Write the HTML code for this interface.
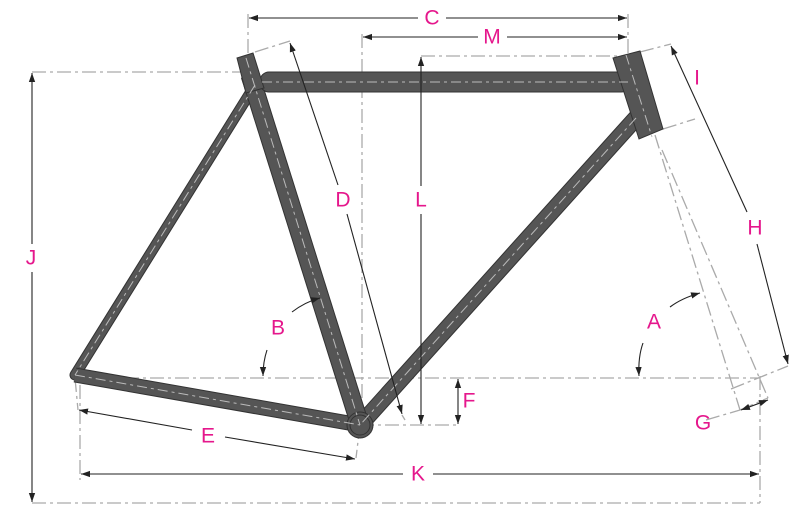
<!DOCTYPE html>
<html><head><meta charset="utf-8"><style>
html,body{margin:0;padding:0;background:#fff;}
svg{display:block;}
text{font-family:"Liberation Sans",sans-serif;font-size:21px;fill:#e5178c;text-anchor:middle;dominant-baseline:central;}
</style></head><body>
<svg width="800" height="513" viewBox="0 0 800 513" xmlns="http://www.w3.org/2000/svg">
<defs>
<marker id="ar" viewBox="0 0 10 10" refX="10" refY="5" markerWidth="9" markerHeight="9" orient="auto-start-reverse" markerUnits="userSpaceOnUse"><path d="M0,1.5 L10,5 L0,8.5 z" fill="#222"/></marker>
</defs>
<g fill="none" stroke="#aaa" stroke-width="1.3" stroke-dasharray="14,4,3,4">
<!-- J ext -->
<line x1="32" y1="72" x2="248" y2="72"/>
<line x1="32" y1="503" x2="760" y2="503"/>
<line x1="248" y1="14" x2="248" y2="58"/>
<line x1="628" y1="14" x2="628" y2="55"/>
<line x1="362" y1="34" x2="362" y2="425"/>
<line x1="421" y1="56" x2="628" y2="56"/>
<line x1="75" y1="378" x2="760" y2="378"/>
<line x1="360" y1="425" x2="458" y2="425"/>
<line x1="80" y1="385" x2="80" y2="480"/>
<line x1="760" y1="376" x2="760" y2="503"/>
<line x1="655" y1="135" x2="740" y2="410"/>
<line x1="662" y1="150" x2="768" y2="398"/>
<line x1="731" y1="389" x2="788" y2="366"/>
<line x1="740" y1="410" x2="768" y2="398"/>
<line x1="706" y1="420" x2="740" y2="410"/>
<line x1="360" y1="425" x2="356" y2="458"/>
<line x1="75" y1="378" x2="78" y2="410"/>
<line x1="255" y1="52" x2="290" y2="41"/>
<line x1="640" y1="52" x2="671" y2="44"/>
<line x1="663" y1="129" x2="695" y2="119"/>
<line x1="402" y1="415" x2="405" y2="420"/>
</g>
<!-- frame -->
<g stroke="#333" stroke-width="1" fill="#555">
<line x1="255" y1="85" x2="75" y2="375" stroke="#333" stroke-width="11" stroke-linecap="round"/>
<line x1="255" y1="85" x2="75" y2="375" stroke="#555" stroke-width="9" stroke-linecap="round"/>
<line x1="75" y1="375" x2="360" y2="425" stroke="#333" stroke-width="15"/>
<line x1="75" y1="375" x2="360" y2="425" stroke="#555" stroke-width="13"/>
<line x1="636" y1="118" x2="360" y2="425" stroke="#333" stroke-width="17" stroke-linecap="round"/>
<line x1="636" y1="118" x2="360" y2="425" stroke="#555" stroke-width="15" stroke-linecap="round"/>
<line x1="250" y1="75" x2="360" y2="425" stroke="#333" stroke-width="19"/>
<line x1="250" y1="75" x2="360" y2="425" stroke="#555" stroke-width="17"/>
<rect x="260" y="72" width="370" height="20" rx="9" fill="#555"/>
<polygon points="237,58 253,53 264,88 246,93"/>
<polygon points="613,58 640,51 663,129 639,139"/>
<circle cx="360" cy="425" r="13" fill="#555"/>
<circle cx="360" cy="425" r="10" fill="none"/>
</g>
<g fill="none" stroke="#bbb" stroke-width="1" stroke-dasharray="10,4,3,4">
<line x1="262" y1="82" x2="628" y2="82"/>
<line x1="246" y1="58" x2="360" y2="425"/>
<line x1="255" y1="85" x2="75" y2="375"/>
<line x1="75" y1="375" x2="360" y2="425"/>
<line x1="636" y1="118" x2="360" y2="425"/>
<line x1="626" y1="55" x2="652" y2="137"/>
</g>
<!-- dimension lines -->
<g stroke="#222" stroke-width="1.1" fill="none">
<line x1="249" y1="18" x2="418" y2="18" marker-start="url(#ar)"/>
<line x1="446" y1="18" x2="627" y2="18" marker-end="url(#ar)"/>
<line x1="363" y1="37" x2="478" y2="37" marker-start="url(#ar)"/>
<line x1="507" y1="37" x2="627" y2="37" marker-end="url(#ar)"/>
<line x1="32" y1="73" x2="32" y2="244" marker-start="url(#ar)"/>
<line x1="32" y1="272" x2="32" y2="502" marker-end="url(#ar)"/>
<line x1="421" y1="57" x2="421" y2="186" marker-start="url(#ar)"/>
<line x1="421" y1="214" x2="421" y2="424" marker-end="url(#ar)"/>
<line x1="290" y1="43" x2="338" y2="185" marker-start="url(#ar)"/>
<line x1="347" y1="214" x2="402" y2="414" marker-end="url(#ar)"/>
<line x1="458" y1="379" x2="458" y2="424" marker-start="url(#ar)" marker-end="url(#ar)"/>
<line x1="79" y1="410" x2="192" y2="430" marker-start="url(#ar)"/>
<line x1="225" y1="437" x2="355" y2="459" marker-end="url(#ar)"/>
<line x1="81" y1="474" x2="403" y2="474" marker-start="url(#ar)"/>
<line x1="433" y1="474" x2="759" y2="474" marker-end="url(#ar)"/>
<line x1="671" y1="46" x2="747" y2="212" marker-start="url(#ar)"/>
<line x1="757" y1="244" x2="788" y2="364" marker-end="url(#ar)"/>
<line x1="741" y1="410" x2="768" y2="400" marker-start="url(#ar)" marker-end="url(#ar)"/>
<path d="M292,312 Q305,302 320,298" marker-end="url(#ar)"/>
<path d="M267,350 Q263,362 263,376" marker-end="url(#ar)"/>
<path d="M670,307 Q682,298 700,293" marker-end="url(#ar)"/>
<path d="M643,343 Q638,357 639,376" marker-end="url(#ar)"/>
</g>
<text x="432" y="18">C</text>
<text x="492" y="37">M</text>
<text x="697" y="78">I</text>
<text x="31" y="258">J</text>
<text x="343" y="200">D</text>
<text x="421" y="200">L</text>
<text x="755" y="228">H</text>
<text x="278" y="328">B</text>
<text x="654" y="322">A</text>
<text x="469" y="401">F</text>
<text x="208" y="436">E</text>
<text x="703" y="423">G</text>
<text x="418" y="474">K</text>
</svg>
</body></html>
